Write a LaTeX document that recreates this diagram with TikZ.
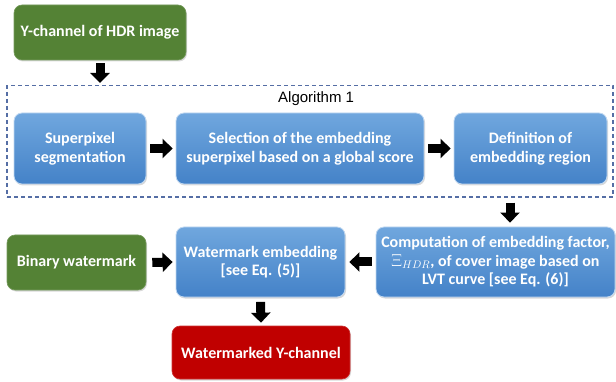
\documentclass[tikz,border=0pt]{standalone}
\usepackage{fontspec}
\setmainfont{Carlito}
\newfontfamily\arialfont{Liberation Sans}
\usetikzlibrary{shadows,arrows.meta,calc}

\definecolor{grn}{RGB}{84,130,53}
\definecolor{redb}{RGB}{192,0,0}
\definecolor{bluetop}{RGB}{112,167,222}
\definecolor{bluebot}{RGB}{68,130,200}
\definecolor{dashc}{RGB}{85,110,165}

\begin{document}
\begin{tikzpicture}[x=1pt,y=-1pt,
  box/.style={rounded corners=8pt, align=center, text=white,
    font=\bfseries\fontsize{16}{18.5}\selectfont, inner sep=2pt,
    drop shadow={opacity=0.3, shadow xshift=1pt, shadow yshift=-1.5pt}},
  bluebox/.style={box, top color=bluetop, bottom color=bluebot,
    draw=white!55!bluetop, line width=0.8pt},
  greenbox/.style={box, fill=grn, draw=white!20!grn, line width=0.6pt},
  redbox/.style={box, fill=redb, draw=white!20!redb, line width=0.6pt},
  barrow/.style={draw=black, line width=9pt,
    -{Triangle[length=10pt,width=19pt]}},
  frame/.style={draw=dashc, line width=1.1pt, dash pattern=on 4pt off 3pt,
    inner sep=0pt}
]
\useasboundingbox (0,0) rectangle (616,382);

\node[greenbox, minimum width=172pt, minimum height=55pt] (ych) at (100,32.5) {Y-channel of HDR image};

\node[frame, minimum width=606pt, minimum height=111.5pt] (alg) at (310,141.25) {};
\node[font=\arialfont\fontsize{15}{18}\selectfont, anchor=west, inner sep=0pt] (algt) at (278,98.5) {Algorithm 1};

\node[bluebox, minimum width=132pt, minimum height=71pt] (sp) at (80,148.5) {Superpixel\\segmentation};
\node[bluebox, minimum width=248pt, minimum height=71pt] (sel) at (300,148.5) {Selection of the embedding\\superpixel based on a global score};
\node[bluebox, minimum width=153pt, minimum height=71pt] (def) at (530.5,148.5) {Definition of\\embedding region};

\node[greenbox, minimum width=139pt, minimum height=55pt] (bin) at (76.5,262.5) {Binary watermark};
\node[bluebox, minimum width=169pt, minimum height=70pt] (wm) at (260.5,262) {Watermark embedding\\{}[see Eq. (5)]};
\node[bluebox, minimum width=239pt, minimum height=70pt] (comp) at (495.5,262) {Computation of embedding factor,\\$\Xi_{HDR}$, of cover image based on\\LVT curve [see Eq. (6)]};
\node[redbox, minimum width=178pt, minimum height=53pt] (red) at (261,352.5) {Watermarked Y-channel};

\coordinate (dc) at (510,0);

\draw[barrow] ([yshift=-3pt]ych.south) -- ([yshift=2pt]ych.south |- alg.north);
\draw[barrow] ([xshift=4pt]sp.east) -- ([xshift=-3pt]sel.west);
\draw[barrow] ([xshift=4pt]sel.east) -- ([xshift=-3pt]def.west);
\draw[barrow] ([yshift=-5pt]dc |- alg.south) -- ([yshift=4pt]dc |- comp.north);
\draw[barrow] ([xshift=6pt]bin.east) -- ([xshift=-3pt]wm.west);
\draw[barrow] ([xshift=-4pt]comp.west) -- ([xshift=4pt]wm.east);
\draw[barrow] ([yshift=-4.5pt]wm.south) -- ([yshift=3pt]red.north);
\end{tikzpicture}
\end{document}
